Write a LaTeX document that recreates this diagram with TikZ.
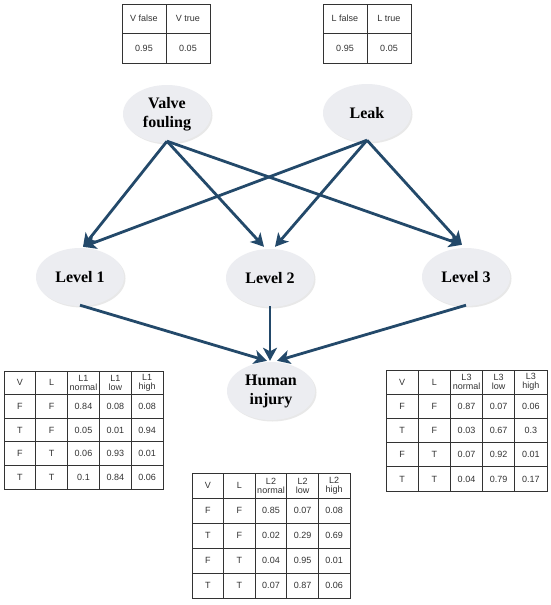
\documentclass[tikz,border=0pt]{standalone}
\usepackage{fontspec}
\setmainfont{Liberation Serif}
\newfontfamily\tabfont{Liberation Sans}
\usetikzlibrary{arrows.meta,shapes.geometric,shadows}
\definecolor{edgeblue}{HTML}{23496A}
\definecolor{nodefill}{HTML}{ECEDF1}
\tikzset{
  bnnode/.style={ellipse, minimum width=88pt, minimum height=58pt, inner sep=0pt,
    fill=nodefill, draw=none, drop shadow={opacity=0.18, shadow xshift=1.5pt, shadow yshift=-1.5pt},
    font=\bfseries\fontsize{16}{19}\selectfont, align=center},
  link/.style={draw=edgeblue, line width=2.8pt, -{Stealth[length=13pt,width=14pt,inset=3.5pt]}},
  tblline/.style={draw=black!80, line width=0.9pt},
  tbltext/.style={font=\tabfont\fontsize{9}{9}\selectfont, text=black!80, align=center, inner sep=0pt},
}
% #1 name, #2 left, #3 top, #4 cell width, #5 cell height, #6 level, #7 data
\newcommand\cptable[7]{%
  \begin{scope}[shift={(#2,#3)}]
    \node[tblline, draw, rectangle, minimum width=5*#4pt, minimum height=5*#5pt, anchor=north west, inner sep=0pt] (#1) at (0,0) {};
    \foreach \i in {1,...,4} \draw[tblline] (\i*#4,0) -- (\i*#4,5*#5);
    \foreach \j in {1,...,4} \draw[tblline] (0,\j*#5) -- (5*#4,\j*#5);
    \node[tbltext] (#1-h1) at (0.5*#4,0.5*#5) {V};
    \node[tbltext] (#1-h2) at (1.5*#4,0.5*#5) {L};
    \node[tbltext] (#1-h3) at (2.5*#4,0.5*#5) {L#6\\normal};
    \node[tbltext] (#1-h4) at (3.5*#4,0.5*#5) {L#6\\low};
    \node[tbltext] (#1-h5) at (4.5*#4,0.5*#5) {L#6\\high};
    \foreach \r/\a/\b/\c/\d/\e in {#7} {
      \node[tbltext] at (0.5*#4,{(\r+0.5)*#5}) {\a};
      \node[tbltext] at (1.5*#4,{(\r+0.5)*#5}) {\b};
      \node[tbltext] at (2.5*#4,{(\r+0.5)*#5}) {\c};
      \node[tbltext] at (3.5*#4,{(\r+0.5)*#5}) {\d};
      \node[tbltext] at (4.5*#4,{(\r+0.5)*#5}) {\e};
    }
  \end{scope}}
\newcommand\priortable[4]{% #1 name, #2 left, #3 top, #4 letter
  \begin{scope}[shift={(#2,#3)}]
    \node[tblline, draw, rectangle, minimum width=88pt, minimum height=59pt, anchor=north west, inner sep=0pt] (#1) at (0,0) {};
    \draw[tblline] (44,0) -- (44,59);
    \draw[tblline] (0,29) -- (88,29);
    \node[tbltext] (#1-a) at (22,14.5) {#4 false};
    \node[tbltext] (#1-b) at (66,14.5) {#4 true};
    \node[tbltext] (#1-c) at (22,44) {0.95};
    \node[tbltext] (#1-d) at (66,44) {0.05};
  \end{scope}}
\begin{document}
\begin{tikzpicture}[x=1pt,y=-1pt]
\useasboundingbox (0,0) rectangle (550,605);
\fill[white] (0,0) rectangle (550,605);

\priortable{vt}{122}{4}{V}
\priortable{lt}{323}{4}{L}

\node[bnnode] (vf) at (167,114) {Valve\\fouling};
\node[bnnode] (lk) at (367,113) {Leak};
\node[bnnode] (l1) at (80,277) {Level 1};
\node[bnnode] (l2) at (270,278) {Level 2};
\node[bnnode] (l3) at (466,277) {Level 3};
\node[bnnode] (hi) at (271,391) {Human\\injury};

\coordinate (vfo) at ([yshift=2pt]vf.south);
\coordinate (lko) at ([yshift=2pt]lk.south);
\coordinate (l1in) at ([xshift=3pt,yshift=1pt]l1.north);
\coordinate (l2inA) at ([xshift=-6pt,yshift=2pt]l2.north);
\coordinate (l2inB) at ([xshift=5pt,yshift=2pt]l2.north);
\coordinate (l3in) at ([xshift=-4pt,yshift=3pt]l3.north);
\coordinate (hiA) at ([xshift=-4pt,yshift=1pt]hi.north);
\coordinate (hiB) at ([xshift=-1pt,yshift=1pt]hi.north);
\coordinate (hiC) at ([xshift=6pt,yshift=1pt]hi.north);

\draw[link] (vfo) -- (l1in);
\draw[link] (vfo) -- (l2inA);
\draw[link] (vfo) -- (l3in);
\draw[link] (lko) -- (l1in);
\draw[link] (lko) -- (l2inB);
\draw[link] (lko) -- (l3in);
\draw[link] ([yshift=1pt]l1.south) -- (hiA);
\draw[link] ([yshift=1pt]l2.south) -- (hiB);
\draw[link] ([yshift=1pt]l3.south) -- (hiC);

\cptable{t1}{4}{371}{31.8}{23.6}{1}{1/F/F/0.84/0.08/0.08, 2/T/F/0.05/0.01/0.94, 3/F/T/0.06/0.93/0.01, 4/T/T/0.1/0.84/0.06}
\cptable{t3}{386}{370}{32.2}{24.2}{3}{1/F/F/0.87/0.07/0.06, 2/T/F/0.03/0.67/0.3, 3/F/T/0.07/0.92/0.01, 4/T/T/0.04/0.79/0.17}
\cptable{t2}{192}{473}{31.6}{25}{2}{1/F/F/0.85/0.07/0.08, 2/T/F/0.02/0.29/0.69, 3/F/T/0.04/0.95/0.01, 4/T/T/0.07/0.87/0.06}
\end{tikzpicture}
\end{document}
